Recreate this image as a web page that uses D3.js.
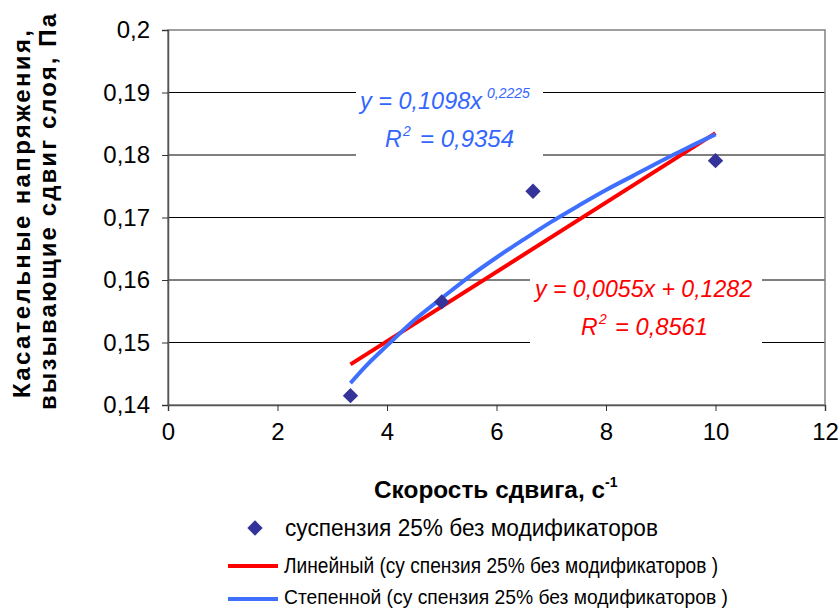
<!DOCTYPE html>
<html>
<head>
<meta charset="utf-8">
<script src="https://cdn.jsdelivr.net/npm/d3@7"></script>
<style>
  body { margin: 0; background: #fff; }
  svg { font-family: "Liberation Sans", Arial, sans-serif; }
</style>
</head>
<body>
<svg id="chart" width="840" height="610"></svg>
<script>
// measured points: shear rate (1/s) vs. shear stress (Pa)
const shearRate = [3.333, 5, 6.667, 10];
const shearStress = [0.1415, 0.1565, 0.1742, 0.1791];

// linear trendline
const linearX = [3.333, 10];
const linearY = [0.1465, 0.1835];

// power trendline
const powerX = [3.333, 3.6, 4, 4.5, 5, 5.5, 6, 6.5, 7, 7.5, 8, 8.5, 9, 9.5, 10];
const powerY = [0.1435, 0.1461, 0.1495, 0.1536, 0.1571, 0.1605, 0.1636, 0.1665, 0.1693, 0.1719, 0.1744, 0.1767, 0.1790, 0.1812, 0.1833];

const xTicks = [0, 2, 4, 6, 8, 10, 12];
const yTicks = [0.14, 0.15, 0.16, 0.17, 0.18, 0.19, 0.2];

const seriesName = 'суспензия 25% без модификаторов';
const linearName = 'Линейный (су спензия 25% без модификаторов )';
const powerName = 'Степенной (су спензия 25% без модификаторов )';

const margin = { top: 30, right: 15, bottom: 205, left: 168 };
const svg = d3.select('#chart');
const width = 840 - margin.left - margin.right;
const height = 610 - margin.top - margin.bottom;

const x = d3.scaleLinear().domain([0, 12]).range([0, width]);
const y = d3.scaleLinear().domain([0.14, 0.2]).range([height, 0]);
const fmt = d => String(d).replace('.', ',');

const chart = svg.append('g')
    .attr('transform', `translate(${margin.left},${margin.top})`);

// gridlines
chart.append('g')
    .selectAll('line')
    .data(yTicks.slice(1, -1))
  .join('line')
    .attr('x1', 0).attr('x2', width)
    .attr('y1', d => y(d)).attr('y2', d => y(d))
    .attr('stroke', '#000').attr('stroke-width', 1);

// plot border
chart.append('rect')
    .attr('width', width).attr('height', height)
    .attr('fill', 'none').attr('stroke', '#808080').attr('stroke-width', 1.5);

// axes
chart.append('g')
    .attr('transform', `translate(0,${height})`)
    .call(d3.axisBottom(x).tickValues(xTicks).tickSize(6).tickPadding(12).tickFormat(fmt))
    .call(g => g.select('.domain').attr('stroke', '#555').attr('stroke-width', 1.5))
    .call(g => g.selectAll('.tick line').attr('stroke', '#333'))
    .call(g => g.selectAll('text').attr('font-size', 24).attr('fill', '#000'));

chart.append('g')
    .call(d3.axisLeft(y).tickValues(yTicks).tickSize(6).tickPadding(12).tickFormat(fmt))
    .call(g => g.select('.domain').attr('stroke', '#555').attr('stroke-width', 1.5))
    .call(g => g.selectAll('.tick line').attr('stroke', '#333'))
    .call(g => g.selectAll('text').attr('font-size', 24).attr('fill', '#000'));

// equation boxes (white background breaks gridlines)
chart.append('rect')
    .attr('x', 356 - margin.left).attr('y', 75 - margin.top)
    .attr('width', 187).attr('height', 83).attr('fill', '#fff');
chart.append('rect')
    .attr('x', 530 - margin.left).attr('y', 268 - margin.top)
    .attr('width', 232).attr('height', 78).attr('fill', '#fff');

// trendlines
const line = d3.line().x(d => x(d[0])).y(d => y(d[1]));
chart.append('path')
    .datum(linearX.map((v, i) => [v, linearY[i]]))
    .attr('d', line)
    .attr('fill', 'none').attr('stroke', '#ff0000').attr('stroke-width', 4);
chart.append('path')
    .datum(powerX.map((v, i) => [v, powerY[i]]))
    .attr('d', line.curve(d3.curveMonotoneX))
    .attr('fill', 'none').attr('stroke', '#3f6fff').attr('stroke-width', 4);

// data markers
const diamond = d3.symbol().type(d3.symbolDiamond2).size(150);
chart.selectAll('.point')
    .data(shearRate.map((v, i) => [v, shearStress[i]]))
  .join('path')
    .attr('class', 'point')
    .attr('transform', d => `translate(${x(d[0])},${y(d[1])})`)
    .attr('d', diamond)
    .attr('fill', '#333399');

// equations
const eq = svg.append('g').attr('font-style', 'italic').attr('font-size', 23);
const p1 = eq.append('text').attr('y', 109).attr('fill', '#3366ff');
p1.append('tspan').attr('x', 360).attr('textLength', 122).attr('lengthAdjust', 'spacingAndGlyphs').text('y = 0,1098x');
p1.append('tspan').attr('x', 487).attr('font-size', 14).attr('dy', -11).text('0,2225');
const p2 = eq.append('text').attr('y', 147).attr('fill', '#3366ff');
p2.append('tspan').attr('x', 385).text('R');
p2.append('tspan').attr('x', 403).attr('font-size', 14).attr('dy', -11).text('2');
p2.append('tspan').attr('x', 420).attr('dy', 11).attr('textLength', 94).attr('lengthAdjust', 'spacingAndGlyphs').text('= 0,9354');

const l1 = eq.append('text').attr('y', 297).attr('fill', '#ff0000');
l1.append('tspan').attr('x', 535).attr('textLength', 217).attr('lengthAdjust', 'spacingAndGlyphs').text('y = 0,0055x + 0,1282');
const l2 = eq.append('text').attr('y', 335).attr('fill', '#ff0000');
l2.append('tspan').attr('x', 581).text('R');
l2.append('tspan').attr('x', 599).attr('font-size', 14).attr('dy', -11).text('2');
l2.append('tspan').attr('x', 615).attr('dy', 11).attr('textLength', 93).attr('lengthAdjust', 'spacingAndGlyphs').text('= 0,8561');

// axis titles
const xt = svg.append('text')
    .attr('y', 498)
    .attr('font-weight', 'bold').attr('font-size', 24);
xt.append('tspan').attr('x', 374).attr('textLength', 231).attr('lengthAdjust', 'spacingAndGlyphs').text('Скорость сдвига, с');
xt.append('tspan').attr('x', 605).attr('font-size', 14).attr('dy', -11).text('-1');

const yt = svg.append('text')
    .attr('transform', 'rotate(-90)')
    .attr('font-weight', 'bold').attr('font-size', 24);
yt.append('tspan').attr('x', -398).attr('y', 30).attr('textLength', 368).attr('lengthAdjust', 'spacing').text('Касательные напряжения,');
yt.append('tspan').attr('x', -410).attr('y', 56).attr('textLength', 396).attr('lengthAdjust', 'spacing').text('вызывающие сдвиг слоя, Па');

// legend
const legend = svg.append('g');
legend.append('path')
    .attr('transform', 'translate(255,528)')
    .attr('d', diamond)
    .attr('fill', '#333399');
legend.append('text')
    .attr('x', 285).attr('y', 536).attr('font-size', 23)
    .attr('textLength', 373).attr('lengthAdjust', 'spacingAndGlyphs')
    .text(seriesName);
legend.append('line')
    .attr('x1', 228).attr('x2', 278).attr('y1', 566).attr('y2', 566)
    .attr('stroke', '#ff0000').attr('stroke-width', 4);
legend.append('text')
    .attr('x', 284).attr('y', 573).attr('font-size', 22)
    .attr('textLength', 434).attr('lengthAdjust', 'spacingAndGlyphs')
    .text(linearName);
legend.append('line')
    .attr('x1', 228).attr('x2', 278).attr('y1', 599).attr('y2', 599)
    .attr('stroke', '#3f6fff').attr('stroke-width', 4);
legend.append('text')
    .attr('x', 284).attr('y', 604).attr('font-size', 21)
    .attr('textLength', 444).attr('lengthAdjust', 'spacingAndGlyphs')
    .text(powerName);
</script>
</body>
</html>
